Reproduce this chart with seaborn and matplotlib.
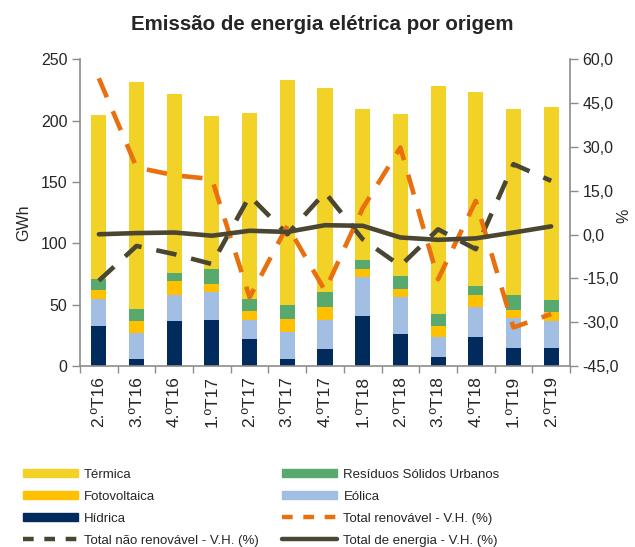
import matplotlib

matplotlib.use("Agg")
import matplotlib.pyplot as plt
import numpy as np
import pandas as pd
import seaborn as sns
from matplotlib.lines import Line2D
from matplotlib.patches import Patch
from matplotlib.ticker import FixedLocator

# Quarters
categories = [
    "2.ºT16", "3.ºT16", "4.ºT16", "1.ºT17", "2.ºT17", "3.ºT17", "4.ºT17",
    "1.ºT18", "2.ºT18", "3.ºT18", "4.ºT18", "1.ºT19", "2.ºT19",
]

# GWh by source (stacked bottom -> top)
hidrica = [32.5, 6, 37, 37.5, 22, 6, 13.5, 41, 26, 7.5, 23.5, 15, 14.5]
eolica = [22.5, 21, 21, 23, 15.5, 22, 24, 31.5, 30, 16.5, 24.5, 24, 22]
fotovoltaica = [7, 9.5, 11, 6, 7, 10, 11, 6.5, 7, 9, 9.5, 7, 7.5]
rsu = [9, 10, 7, 12.5, 10, 12, 12, 7.5, 10, 9, 8, 11.5, 10]
termica = [134, 185, 146, 125, 152, 183.5, 166.5, 123, 132.5, 186.5, 157.5, 152, 157]

# Homologous variation (%)
renovavel_vh = [53.5, 23, 20.3, 19, -21.5, 3, -19.2, 9, 29.8, -15.3, 11.5, -31.8, -27.2]
nao_renovavel_vh = [-15.8, -3.9, -6.7, -10.1, 13.2, 0.1, 14.4, -1.6, -10.7, 1.8, -5.0, 24.1, 18.4]
total_vh = [0.1, 0.5, 0.7, -0.4, 1.3, 0.9, 3.2, 3.0, -1.0, -1.8, -1.3, 0.7, 2.8]

BAR_LABELS = ["Hídrica", "Eólica", "Fotovoltaica", "Resíduos Sólidos Urbanos", "Térmica"]
BAR_COLORS = {
    "Hídrica": "#002B5C",
    "Eólica": "#A2BEE3",
    "Fotovoltaica": "#FFC000",
    "Resíduos Sólidos Urbanos": "#57A96E",
    "Térmica": "#F3D228",
}
LINE_REN = "Total renovável - V.H. (%)"
LINE_NREN = "Total não renovável - V.H. (%)"
LINE_TOT = "Total de energia - V.H. (%)"
ORANGE = "#E8700E"
OLIVE = "#4B4631"
AXIS_GRAY = "#8C8C8C"

sns.set_style("white")
plt.rcParams["font.family"] = ["Liberation Sans", "DejaVu Sans"]

df = pd.DataFrame(
    {
        "quarter": categories,
        "Hídrica": hidrica,
        "Eólica": eolica,
        "Fotovoltaica": fotovoltaica,
        "Resíduos Sólidos Urbanos": rsu,
        "Térmica": termica,
    }
)
cum = df[BAR_LABELS].cumsum(axis=1)

fig = plt.figure(figsize=(6.35, 5.47), dpi=100)
ax = fig.add_axes([80 / 635, 1 - 366 / 547, 490 / 635, 306.7 / 547])

# stacked bars drawn as overlapping cumulative totals, tallest first
for label in reversed(BAR_LABELS):
    sns.barplot(
        x=df["quarter"], y=cum[label], color=BAR_COLORS[label],
        width=0.4, linewidth=0, saturation=1, ax=ax,
    )

ax.set_xlim(-0.5, len(categories) - 0.5)
ax.set_ylim(0, 250)
ax.set_yticks(np.arange(0, 251, 50))
ax.set_xlabel("")
ax.set_ylabel("")
ax.tick_params(axis="y", labelsize=11.5, length=6, width=1, color=AXIS_GRAY,
               direction="out", left=True, pad=3)
ax.tick_params(axis="x", which="major", length=0, labelsize=12.5, rotation=90, pad=7)
ax.xaxis.set_minor_locator(FixedLocator(np.arange(-0.5, len(categories), 1)))
ax.tick_params(axis="x", which="minor", length=5, width=1, color=AXIS_GRAY,
               direction="out", bottom=True)
for side in ["top", "right"]:
    ax.spines[side].set_visible(False)
for side in ["left", "bottom"]:
    ax.spines[side].set_color(AXIS_GRAY)
    ax.spines[side].set_linewidth(1.2)
ax.text(-0.115, 0.468, "GWh", transform=ax.transAxes, rotation=90,
        ha="center", va="center", fontsize=11.5)

# secondary axis with variations
ax2 = ax.twinx()
lines_df = pd.DataFrame(
    {
        "pos": np.tile(np.arange(len(categories)), 3),
        "value": renovavel_vh + nao_renovavel_vh + total_vh,
        "serie": [LINE_REN] * len(categories)
        + [LINE_NREN] * len(categories)
        + [LINE_TOT] * len(categories),
    }
)
sns.lineplot(
    data=lines_df, x="pos", y="value", hue="serie", style="serie",
    palette={LINE_REN: ORANGE, LINE_NREN: OLIVE, LINE_TOT: OLIVE},
    dashes={LINE_REN: (4.5, 3.3), LINE_NREN: (4.5, 3.3), LINE_TOT: ""},
    hue_order=[LINE_NREN, LINE_REN, LINE_TOT],
    linewidth=3.3, estimator=None, legend=False, ax=ax2,
)
ax2.set_xlim(-0.5, len(categories) - 0.5)
ax2.set_ylim(-45, 60)
vh_ticks = np.arange(-45, 61, 15)
ax2.set_yticks(vh_ticks)
ax2.set_yticklabels([f"{t:.1f}".replace(".", ",") for t in vh_ticks])
ax2.set_xlabel("")
ax2.set_ylabel("")
ax2.tick_params(axis="y", labelsize=11.5, length=6, width=1, color=AXIS_GRAY,
                direction="out", right=True, pad=3)
for side in ["top", "left", "bottom"]:
    ax2.spines[side].set_visible(False)
ax2.spines["right"].set_color(AXIS_GRAY)
ax2.spines["right"].set_linewidth(1.2)
ax2.text(1.11, 0.49, "%", transform=ax2.transAxes, rotation=90,
         ha="center", va="center", fontsize=11.5)

fig.text(0.508, 1 - 24 / 547, "Emissão de energia elétrica por origem",
         ha="center", va="center", fontsize=14.8, fontweight="bold")

handles = [
    Patch(color=BAR_COLORS["Térmica"], label="Térmica"),
    Patch(color=BAR_COLORS["Fotovoltaica"], label="Fotovoltaica"),
    Patch(color=BAR_COLORS["Hídrica"], label="Hídrica"),
    Line2D([], [], color=OLIVE, lw=3.2, dashes=(2.4, 2.4), label=LINE_NREN),
    Patch(color=BAR_COLORS["Resíduos Sólidos Urbanos"], label="Resíduos Sólidos Urbanos"),
    Patch(color=BAR_COLORS["Eólica"], label="Eólica"),
    Line2D([], [], color=ORANGE, lw=3.2, dashes=(2.4, 2.4), label=LINE_REN),
    Line2D([], [], color=OLIVE, lw=3.2, label=LINE_TOT),
]
fig.legend(
    handles=handles, ncol=2, loc="upper left",
    bbox_to_anchor=(11 / 635, 1 - 457 / 547),
    frameon=False, fontsize=9.5, handlelength=4.2, handleheight=0.55,
    handletextpad=0.45, columnspacing=1.75, labelspacing=0.75,
)

fig.savefig("out.png", dpi=100)
